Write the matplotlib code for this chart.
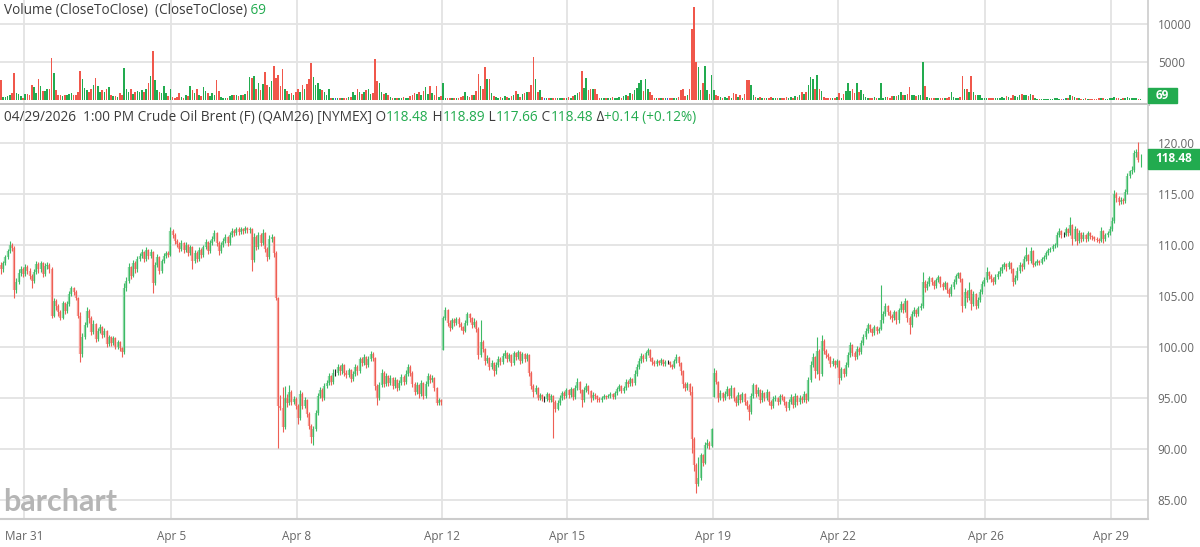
import numpy as np
import matplotlib
matplotlib.use("Agg")
import matplotlib.pyplot as plt
from matplotlib.patches import Rectangle
from matplotlib.transforms import blended_transform_factory

plt.rcParams['font.family'] = ['Open Sans', 'DejaVu Sans']

# hourly bars, Crude Oil Brent (QAM26)
closes = [
    107.6, 108.2, 108.8, 109.4, 110.0, 109.7, 105.6, 106.4, 107.3, 107.6,
    107.2, 107.8, 107.5, 107.0, 106.5, 107.4, 108.1, 107.6, 108.2, 107.2,
    107.9, 108.0, 107.6, 103.0, 104.5, 104.0, 103.4, 102.8, 104.3, 103.5,
    104.2, 105.2, 105.8, 105.4, 104.8, 103.0, 99.3, 101.0, 102.2, 103.5,
    102.8, 101.5, 102.3, 100.8, 101.6, 102.0, 101.2, 101.6, 100.3, 101.0,
    100.4, 100.9, 100.0, 100.5, 99.9, 99.5, 105.8, 106.5, 107.8, 107.0,
    108.2, 107.6, 108.6, 108.9, 109.3, 108.6, 109.5, 108.9, 109.3, 106.3,
    108.0, 108.8, 107.5, 108.4, 108.9, 109.2, 109.0, 111.4, 111.0, 110.4,
    110.1, 109.6, 110.2, 109.5, 110.0, 109.2, 109.8, 108.4, 109.2, 108.6,
    109.5, 109.0, 109.8, 110.3, 109.4, 110.2, 110.6, 111.2, 110.2, 109.4,
    110.0, 110.4, 110.8, 110.2, 111.0, 111.4, 111.2, 111.6, 111.3, 111.6,
    111.4, 111.7, 111.5, 111.6, 108.5, 110.8, 109.8, 111.0, 110.2, 111.2,
    109.6, 108.8, 110.6, 110.8, 109.2, 104.8, 94.2, 94.0, 92.2, 95.0,
    94.5, 95.6, 94.6, 94.9, 94.2, 93.0, 95.4, 94.2, 94.8, 93.4,
    92.3, 91.2, 92.0, 93.5, 95.2, 95.8, 95.0, 96.2, 96.5, 97.2,
    96.6, 97.5, 97.5, 98.0, 97.6, 98.2, 97.5, 97.3, 97.7, 96.9,
    97.4, 98.0, 97.6, 98.8, 98.4, 99.0, 98.2, 98.8, 99.3, 98.9,
    96.2, 95.0, 96.3, 97.5, 96.4, 97.2, 96.5, 97.0, 96.2, 96.8,
    96.0, 96.5, 97.1, 96.6, 97.4, 98.0, 97.5, 96.4, 95.6, 96.3,
    95.4, 96.5, 95.2, 96.4, 97.2, 96.8, 97.0, 96.0, 94.5, 94.8,
    94.6, 102.8, 103.6, 102.4, 101.9, 102.6, 102.4, 102.7, 102.3, 102.0,
    101.6, 102.4, 103.2, 102.8, 102.2, 102.5, 101.8, 99.2, 100.5, 99.8,
    98.6, 98.9, 98.0, 98.4, 97.6, 98.2, 98.8, 98.5, 99.1, 99.4,
    98.8, 99.2, 98.4, 99.4, 99.0, 99.5, 98.6, 99.3, 98.8, 99.2,
    97.5, 96.2, 95.6, 96.0, 95.0, 95.3, 94.9, 94.9, 95.4, 94.8,
    95.2, 94.6, 93.9, 94.5, 95.0, 95.5, 95.2, 95.8, 95.3, 95.9,
    95.1, 96.0, 96.6, 95.8, 94.8, 95.8, 96.2, 95.7, 95.0, 95.3,
    95.2, 94.9, 94.8, 95.0, 95.2, 95.1, 95.2, 95.4, 95.1, 95.5,
    95.9, 96.2, 95.7, 96.0, 96.6, 96.4, 96.9, 96.5, 97.4, 98.0,
    98.6, 99.1, 98.8, 99.4, 99.7, 98.9, 98.5, 98.3, 98.6, 98.4,
    98.7, 98.3, 98.5, 98.5, 98.2, 98.0, 98.6, 99.0, 98.4, 97.6,
    96.4, 96.0, 96.4, 95.6, 91.0, 88.4, 86.6, 87.2, 89.4, 88.6,
    90.4, 90.6, 90.3, 92.0, 97.5, 96.6, 95.0, 95.5, 95.0, 95.4,
    95.9, 95.2, 96.0, 95.0, 94.5, 95.3, 94.8, 95.4, 94.6, 94.2,
    93.6, 95.2, 96.3, 95.4, 95.8, 94.8, 95.5, 95.0, 95.6, 94.6,
    94.2, 94.9, 95.0, 94.6, 95.2, 95.1, 94.6, 94.0, 94.6, 95.1,
    94.3, 95.2, 94.6, 95.0, 94.8, 95.4, 94.8, 96.8, 98.2, 99.0,
    97.6, 99.6, 97.4, 100.6, 99.6, 99.2, 99.0, 98.3, 98.6, 98.2,
    98.6, 97.0, 97.8, 97.4, 98.2, 99.2, 100.2, 99.4, 99.0, 99.8,
    99.5, 100.4, 101.0, 101.6, 102.2, 101.8, 101.4, 102.0, 101.6, 101.8,
    102.6, 103.2, 104.0, 103.4, 103.0, 102.8, 103.4, 102.6, 103.6, 104.2,
    103.6, 104.5, 102.8, 102.2, 103.2, 103.6, 103.2, 103.8, 104.0, 106.4,
    105.8, 106.2, 106.8, 106.4, 106.0, 106.6, 106.9, 106.2, 105.9, 106.3,
    105.6, 105.2, 105.9, 106.4, 107.0, 107.3, 106.7, 104.0, 105.4, 104.8,
    105.6, 104.2, 105.2, 104.0, 104.6, 105.4, 106.2, 106.6, 107.4, 107.0,
    106.7, 106.4, 106.9, 107.2, 107.5, 107.8, 108.1, 107.8, 108.2, 107.6,
    106.4, 106.8, 107.5, 108.0, 107.8, 108.6, 109.0, 108.4, 109.4, 108.0,
    108.2, 108.4, 108.2, 108.6, 108.8, 109.2, 109.5, 109.6, 109.9, 110.0,
    111.0, 111.4, 111.0, 111.0, 111.6, 111.2, 112.0, 110.6, 111.6, 110.4,
    111.2, 110.6, 111.0, 110.6, 111.2, 110.9, 110.8, 110.6, 110.5, 110.4,
    111.4, 110.6, 111.0, 111.2, 111.6, 112.4, 115.0, 114.6, 114.2, 114.4,
    114.3, 115.2, 116.8, 117.3, 117.4, 119.0, 119.1, 118.34, 118.48,
]

highs = [
    108.3, 108.4, 109.0, 109.6, 110.4, 110.2, 109.9, 106.8, 107.6, 107.9,
    107.8, 108.1, 108.0, 107.7, 107.2, 107.6, 108.4, 108.3, 108.4, 108.3,
    108.2, 108.3, 108.2, 107.8, 104.8, 104.7, 104.2, 103.6, 104.5, 104.4,
    104.5, 105.5, 106.0, 105.9, 105.6, 104.9, 103.4, 101.4, 102.5, 103.9,
    103.7, 103.0, 102.6, 102.4, 101.9, 102.3, 102.1, 101.9, 101.7, 101.2,
    101.1, 101.1, 101.0, 100.7, 100.6, 100.0, 106.3, 106.9, 108.2, 107.9,
    108.5, 108.4, 108.9, 109.2, 109.6, 109.4, 109.8, 109.6, 109.6, 109.4,
    108.3, 109.1, 108.9, 108.6, 109.2, 109.4, 109.4, 111.8, 111.6, 111.2,
    110.6, 110.3, 110.5, 110.3, 110.3, 110.1, 110.0, 109.9, 109.5, 109.4,
    109.8, 109.7, 110.0, 110.6, 110.4, 110.5, 110.9, 111.5, 111.3, 110.4,
    110.3, 110.7, 111.1, 110.9, 111.3, 111.7, 111.6, 111.8, 111.8, 111.8,
    111.7, 111.9, 111.8, 111.8, 111.7, 111.2, 111.0, 111.3, 111.2, 111.6,
    111.3, 109.8, 111.0, 111.1, 110.9, 109.4, 104.9, 95.3, 96.1, 96.2,
    95.4, 96.3, 95.8, 95.2, 95.1, 94.4, 95.8, 95.6, 95.1, 94.9,
    93.6, 92.5, 92.3, 93.8, 95.5, 96.1, 96.0, 96.5, 96.8, 97.5,
    97.3, 97.8, 97.8, 98.3, 98.2, 98.4, 98.3, 97.7, 97.9, 97.8,
    97.6, 98.3, 98.2, 99.0, 99.0, 99.3, 99.1, 99.1, 99.6, 99.5,
    99.0, 96.4, 96.6, 97.8, 97.6, 97.5, 97.3, 97.3, 97.1, 97.1,
    96.9, 96.8, 97.4, 97.3, 97.7, 98.3, 98.2, 97.6, 96.6, 96.6,
    96.4, 96.8, 96.6, 96.7, 97.5, 97.4, 97.3, 97.1, 96.1, 95.0,
    94.9, 103.0, 103.9, 103.7, 102.6, 102.8, 102.8, 102.9, 102.9, 102.5,
    102.1, 102.6, 103.4, 103.3, 102.9, 102.8, 102.6, 102.0, 102.6, 100.7,
    99.9, 99.2, 99.0, 98.7, 98.5, 98.5, 99.1, 99.0, 99.4, 99.7,
    99.5, 99.4, 99.3, 99.6, 99.5, 99.7, 99.6, 99.5, 99.4, 99.4,
    99.3, 97.6, 96.4, 96.3, 96.1, 95.5, 95.4, 95.2, 95.6, 95.5,
    95.4, 95.3, 94.8, 94.8, 95.3, 95.7, 95.7, 96.0, 95.9, 96.1,
    96.0, 96.3, 97.0, 96.7, 95.9, 96.1, 96.5, 96.3, 95.8, 95.6,
    95.5, 95.3, 95.1, 95.2, 95.4, 95.3, 95.4, 95.6, 95.5, 95.7,
    96.1, 96.4, 96.3, 96.2, 96.9, 96.8, 97.1, 97.0, 97.7, 98.3,
    98.9, 99.4, 99.3, 99.6, 99.9, 99.8, 99.0, 98.7, 98.8, 98.7,
    98.9, 98.8, 98.7, 98.7, 98.6, 98.3, 98.8, 99.3, 99.1, 98.5,
    97.7, 96.6, 96.6, 96.5, 96.2, 91.2, 88.6, 89.2, 89.6, 89.5,
    90.7, 91.0, 90.8, 92.1, 97.9, 97.7, 96.7, 95.8, 95.6, 95.7,
    96.2, 96.0, 96.3, 96.1, 95.2, 95.6, 95.4, 95.6, 95.5, 94.8,
    94.4, 95.5, 96.5, 96.4, 96.1, 95.9, 95.8, 95.6, 95.9, 95.7,
    94.8, 95.2, 95.3, 95.1, 95.4, 95.4, 95.2, 94.7, 94.9, 95.4,
    95.2, 95.5, 95.3, 95.3, 95.2, 95.7, 95.5, 97.1, 98.6, 99.4,
    99.1, 101.0, 99.8, 101.2, 100.8, 99.8, 99.4, 99.1, 98.9, 98.7,
    98.8, 98.7, 98.0, 97.9, 98.5, 99.5, 100.5, 100.3, 99.6, 100.1,
    100.0, 100.7, 101.3, 101.9, 102.4, 102.3, 101.9, 102.2, 102.1, 102.0,
    106.1, 103.5, 104.3, 104.1, 103.6, 103.2, 103.6, 103.5, 103.8, 104.5,
    104.3, 104.8, 104.6, 103.0, 103.5, 103.9, 103.7, 104.0, 104.3, 107.4,
    106.6, 106.5, 107.0, 106.9, 106.6, 106.8, 107.1, 107.0, 106.4, 106.5,
    106.4, 105.8, 106.2, 106.7, 107.2, 107.4, 107.4, 106.8, 105.8, 105.6,
    106.4, 105.7, 105.5, 105.3, 104.9, 105.7, 106.5, 106.9, 107.8, 107.5,
    107.2, 106.9, 107.2, 107.5, 107.8, 108.1, 108.3, 108.2, 108.4, 108.3,
    107.7, 107.1, 107.8, 108.3, 108.2, 108.9, 109.8, 109.1, 109.8, 109.5,
    108.4, 108.6, 108.5, 108.8, 109.0, 109.4, 109.7, 109.8, 110.1, 110.2,
    111.3, 111.7, 111.5, 111.3, 111.8, 111.7, 112.7, 112.1, 111.9, 111.7,
    111.5, 111.3, 111.3, 111.1, 111.4, 111.3, 111.0, 110.9, 110.8, 110.7,
    111.8, 111.5, 111.2, 111.4, 111.9, 112.7, 115.4, 115.2, 114.8, 114.7,
    114.6, 115.5, 117.1, 117.4, 117.7, 119.3, 119.4, 120.1, 118.89,
]

lows = [
    107.2, 107.4, 108.0, 108.6, 109.2, 109.4, 104.8, 105.3, 106.2, 107.0,
    106.9, 107.0, 107.2, 106.7, 105.8, 106.3, 107.2, 107.3, 107.4, 106.9,
    107.0, 107.6, 107.3, 102.8, 102.9, 103.6, 103.0, 102.6, 102.7, 103.2,
    103.3, 104.0, 105.0, 105.1, 104.6, 102.8, 98.5, 99.0, 100.8, 102.0,
    102.4, 101.2, 101.3, 100.5, 100.6, 101.4, 100.9, 101.0, 100.0, 100.1,
    100.1, 100.2, 99.8, 99.8, 99.6, 99.0, 99.3, 105.5, 106.3, 106.7,
    106.9, 107.3, 107.4, 108.4, 108.7, 108.3, 108.4, 108.6, 108.7, 105.3,
    106.1, 107.8, 107.2, 107.3, 108.2, 108.7, 108.8, 108.9, 110.7, 110.1,
    109.8, 109.3, 109.4, 109.2, 109.3, 108.9, 109.0, 107.6, 108.2, 108.3,
    108.4, 108.7, 108.8, 109.6, 109.1, 109.2, 110.0, 110.4, 109.9, 109.0,
    109.2, 109.8, 110.2, 109.9, 110.0, 110.8, 110.9, 111.0, 111.0, 111.1,
    111.1, 111.2, 111.2, 111.2, 107.5, 108.3, 109.5, 109.6, 109.9, 110.0,
    109.3, 108.4, 108.6, 110.3, 108.8, 104.6, 90.1, 93.8, 91.7, 92.0,
    94.1, 94.3, 94.3, 94.4, 93.9, 92.5, 92.8, 93.9, 94.0, 93.1,
    92.0, 90.6, 90.4, 91.8, 93.3, 95.0, 94.7, 94.8, 96.0, 96.3,
    96.3, 96.4, 97.2, 97.3, 97.3, 97.4, 97.2, 97.0, 97.1, 96.6,
    96.7, 97.2, 97.3, 97.5, 98.1, 98.2, 97.9, 98.0, 98.6, 98.6,
    95.8, 94.3, 94.8, 96.1, 96.1, 96.2, 96.2, 96.3, 95.9, 96.0,
    95.7, 95.8, 96.3, 96.3, 96.4, 97.2, 97.2, 96.1, 95.3, 95.4,
    95.0, 95.2, 94.9, 95.0, 96.2, 96.5, 96.6, 95.7, 94.3, 94.3,
    94.3, 99.7, 102.6, 102.1, 101.6, 101.8, 102.1, 102.2, 102.0, 101.7,
    101.3, 101.5, 102.2, 102.5, 101.9, 102.0, 101.5, 98.8, 99.0, 99.5,
    98.2, 98.4, 97.7, 97.8, 97.2, 97.4, 98.0, 98.2, 98.3, 98.9,
    98.5, 98.6, 98.1, 98.2, 98.7, 98.8, 98.3, 98.4, 98.5, 98.6,
    97.2, 95.9, 95.1, 95.4, 94.8, 94.8, 94.7, 94.6, 94.7, 94.6,
    94.6, 91.1, 93.6, 93.8, 94.3, 94.8, 94.9, 95.0, 95.0, 95.1,
    94.8, 94.9, 95.8, 95.5, 94.1, 94.6, 95.6, 95.4, 94.6, 94.8,
    94.9, 94.6, 94.6, 94.6, 94.9, 94.9, 95.0, 95.0, 94.9, 94.9,
    95.3, 95.7, 95.5, 95.5, 95.8, 96.1, 96.2, 96.2, 96.3, 97.2,
    97.8, 98.4, 98.5, 98.6, 99.2, 98.6, 98.2, 98.1, 98.1, 98.2,
    98.2, 98.1, 98.1, 98.3, 98.0, 97.8, 97.9, 98.4, 98.1, 97.3,
    96.0, 95.7, 95.8, 95.3, 89.6, 87.8, 85.7, 86.4, 87.0, 88.3,
    88.5, 90.1, 90.0, 90.2, 95.1, 96.4, 94.6, 94.8, 94.7, 94.8,
    95.2, 94.9, 95.0, 94.7, 94.2, 94.3, 94.5, 94.6, 94.3, 93.9,
    92.8, 93.4, 95.0, 95.1, 95.2, 94.5, 94.6, 94.7, 94.8, 94.3,
    93.9, 94.0, 94.7, 94.3, 94.4, 94.8, 94.3, 93.7, 93.8, 94.4,
    94.0, 94.1, 94.3, 94.4, 94.5, 94.6, 94.5, 94.7, 96.6, 98.0,
    97.0, 97.4, 96.8, 97.2, 99.3, 98.9, 98.7, 98.0, 98.1, 97.9,
    98.0, 96.4, 96.8, 97.1, 97.2, 98.0, 99.0, 99.1, 98.7, 98.8,
    99.2, 99.3, 100.2, 100.8, 101.4, 101.5, 101.1, 101.2, 101.3, 101.4,
    101.7, 102.4, 103.0, 103.1, 102.7, 102.5, 102.6, 102.3, 102.4, 103.4,
    103.3, 103.4, 102.5, 101.3, 102.0, 103.0, 102.9, 103.0, 103.6, 103.8,
    105.4, 105.6, 106.0, 106.1, 105.7, 105.8, 106.4, 105.9, 105.6, 105.7,
    105.3, 104.9, 105.0, 105.7, 106.2, 106.8, 106.4, 103.4, 103.8, 104.4,
    104.6, 103.6, 104.0, 103.7, 103.8, 104.4, 105.2, 106.0, 106.4, 106.7,
    106.4, 106.1, 106.2, 106.7, 107.0, 107.3, 107.6, 107.5, 107.6, 107.3,
    106.0, 106.2, 106.6, 107.3, 107.5, 107.6, 108.4, 108.1, 108.2, 107.8,
    107.9, 108.0, 108.0, 108.1, 108.4, 108.6, 109.0, 109.3, 109.4, 109.7,
    109.8, 110.8, 110.7, 110.8, 110.9, 110.9, 111.0, 110.0, 110.4, 110.0,
    110.2, 110.3, 110.4, 110.3, 110.4, 110.6, 110.5, 110.4, 110.3, 110.2,
    110.3, 110.2, 110.4, 110.8, 111.0, 111.4, 112.2, 114.2, 113.9, 114.0,
    114.0, 114.1, 115.0, 116.6, 117.0, 117.2, 118.6, 118.1, 117.66,
]

# opens differ from the previous close only at session gaps
gap_opens = {0: 108.0, 201: 99.7, 324: 95.1, 518: 118.48}

volumes = [
    2600, 400, 400, 500, 600, 900, 3500, 900, 800, 500,
    300, 800, 800, 700, 2000, 1700, 900, 2700, 1800, 1200,
    1200, 1500, 1400, 5500, 3500, 1300, 700, 600, 500, 700,
    600, 800, 900, 600, 700, 1000, 3800, 2800, 1600, 1300,
    1000, 1400, 2000, 2900, 1800, 1100, 1300, 1000, 1500, 1700,
    600, 500, 500, 400, 900, 700, 4200, 1400, 1000, 1400,
    800, 1100, 1200, 1100, 1300, 1000, 1500, 2200, 3200, 6500,
    2600, 1300, 1000, 900, 1800, 900, 500, 1500, 400, 300,
    400, 900, 400, 300, 700, 500, 1800, 1300, 900, 1400,
    700, 500, 1700, 1200, 900, 500, 900, 600, 2600, 1200,
    400, 300, 300, 300, 500, 600, 600, 700, 500, 600,
    700, 800, 1200, 3000, 2900, 3200, 1500, 2200, 1300, 2100,
    3700, 2000, 1700, 2500, 4500, 2900, 3300, 1800, 4100, 1500,
    1200, 800, 900, 700, 1000, 1500, 1100, 2000, 1400, 2100,
    2800, 4900, 3000, 2000, 2200, 1400, 1300, 1100, 600, 1400,
    300, 200, 200, 300, 200, 300, 300, 200, 400, 400,
    1000, 700, 1500, 1100, 800, 1000, 1300, 1500, 800, 900,
    5400, 2500, 2300, 1000, 800, 900, 600, 400, 300, 300,
    300, 200, 300, 400, 300, 300, 500, 600, 900, 800,
    1000, 600, 1200, 1700, 800, 1800, 900, 700, 1800, 400,
    500, 2200, 300, 200, 300, 200, 200, 300, 300, 400,
    500, 1000, 500, 400, 600, 700, 1200, 3400, 1900, 1500,
    4300, 2800, 2700, 900, 500, 400, 300, 400, 300, 500,
    400, 300, 500, 700, 1200, 800, 400, 800, 900, 1000,
    1100, 2000, 5600, 2700, 1000, 1300, 400, 300, 300, 200,
    300, 300, 300, 200, 200, 300, 200, 300, 400, 300,
    500, 600, 900, 1100, 3800, 1600, 2900, 1300, 1400, 1500,
    1400, 800, 300, 300, 200, 300, 200, 300, 400, 300,
    300, 400, 300, 500, 600, 500, 900, 800, 1300, 1600,
    2300, 2600, 1200, 2800, 1400, 1000, 700, 300, 200, 200,
    300, 200, 200, 200, 200, 300, 300, 200, 400, 1300,
    1500, 500, 600, 1400, 9300, 12300, 5000, 4300, 1300, 2200,
    4500, 1300, 800, 3300, 1300, 600, 500, 400, 300, 400,
    300, 500, 300, 900, 800, 400, 700, 300, 800, 2600,
    2600, 2000, 600, 400, 300, 400, 300, 300, 200, 300,
    400, 300, 200, 300, 200, 300, 200, 400, 300, 400,
    300, 500, 400, 600, 1000, 800, 1000, 2000, 3000, 2800,
    1500, 3300, 1500, 1200, 400, 300, 300, 200, 300, 200,
    400, 900, 300, 800, 1200, 2300, 1200, 1500, 900, 2300,
    1000, 1300, 800, 400, 300, 300, 300, 400, 300, 300,
    2200, 300, 400, 400, 300, 500, 500, 500, 600, 1000,
    700, 700, 800, 1700, 700, 600, 500, 600, 700, 5000,
    1900, 400, 300, 300, 300, 200, 300, 300, 200, 300,
    300, 400, 1100, 400, 300, 300, 400, 3200, 1500, 1500,
    1000, 3200, 1000, 700, 700, 600, 300, 300, 200, 300,
    300, 300, 200, 300, 300, 400, 300, 500, 400, 300,
    600, 500, 400, 700, 800, 600, 700, 500, 800, 600,
    200, 150, 100, 150, 100, 150, 100, 150, 100, 200,
    200, 150, 100, 150, 200, 300, 700, 500, 400, 300,
    200, 150, 100, 200, 150, 100, 150, 100, 150, 200,
    300, 200, 150, 100, 200, 300, 400, 300, 200, 150,
    200, 300, 400, 250, 200, 300, 250, 150, 69,
]

# first bar of each labelled session
session_bars = [11, 78, 135, 201, 258, 324, 381, 448, 505]
session_labels = ["Mar 31", "Apr 5", "Apr 8", "Apr 12", "Apr 15",
                  "Apr 19", "Apr 22", "Apr 26", "Apr 29"]
price_ticks = [85, 90, 95, 100, 105, 110, 115, 120]
vol_ticks = [5000, 10000]

header = "04/29/2026  1:00 PM Crude Oil Brent (F) (QAM26) [NYMEX] "
last_o, last_h, last_l, last_c = 118.48, 118.89, 117.66, 118.48
change, change_pct = 0.14, 0.12

GREEN = '#22ab4f'
RED = '#f0574b'
DARK = '#3b3b3b'
GRAY = '#666666'
GRID = '#e3e3e3'
BORDER = '#cccccc'

W, H = 1200, 547
fig = plt.figure(figsize=(W / 100, H / 100), dpi=100)


def px_box(left, top, right, bottom):
    return [left / W, 1 - bottom / H, (right - left) / W, (bottom - top) / H]


ax_v = fig.add_axes(px_box(0, 0, 1148, 104))
ax_p = fig.add_axes(px_box(0, 105, 1148, 519))

n = len(closes)
x = np.arange(n)
c = np.array(closes)
hi = np.array(highs)
lo = np.array(lows)
o = np.array([gap_opens[i] if i in gap_opens else closes[i - 1] for i in range(n)])
prev = np.concatenate([[o[0]], c[:-1]])
diff = np.round(c - prev, 4)
up = diff > 0
down = diff < 0
flat = diff == 0

styles = [(up, '#8fd8a6', '#3dba66', GREEN),
          (down, '#f7a39d', '#ee5f55', RED),
          (flat, '#777777', '#222222', '#3b5bdb')]

for mask, body_col, wick_col, vol_col in styles:
    ax_p.vlines(x[mask], np.minimum(o, c)[mask], np.maximum(o, c)[mask],
                color=body_col, lw=1.7, zorder=3)
    ax_p.vlines(x[mask], lo[mask], hi[mask], color=wick_col, lw=0.8, zorder=4)
    ax_v.bar(x[mask], np.array(volumes)[mask], width=0.75, color=vol_col,
             linewidth=0, zorder=3)

xlim = (-1 / 2.2, 1147 / 2.2)
grid_x = [b - 0.5 for b in session_bars]

# price panel
ax_p.set_xlim(*xlim)
ax_p.set_ylim(85 - 19 / 10.2, 120 + 38 / 10.2)
ax_p.set_yticks(price_ticks)
ax_p.set_yticklabels([f"{v:.2f}" for v in price_ticks])
ax_p.yaxis.tick_right()
ax_p.set_xticks(grid_x)
ax_p.set_xticklabels(session_labels)
ax_p.grid(True, color=GRID, lw=1.3, zorder=0)
ax_p.tick_params(axis='y', length=0, pad=7, labelsize=8.5, labelcolor=GRAY)
ax_p.tick_params(axis='x', length=0, pad=8, labelsize=8.5, labelcolor=GRAY)
for side in ['top', 'left']:
    ax_p.spines[side].set_visible(False)
ax_p.spines['right'].set_color(BORDER)
ax_p.spines['right'].set_linewidth(1.2)
ax_p.spines['bottom'].set_color(BORDER)
ax_p.spines['bottom'].set_linewidth(1.5)

# volume panel
ax_v.set_xlim(*xlim)
ax_v.set_ylim(-4 / 7.6 * 1000, 100 / 7.6 * 1000)
ax_v.set_yticks(vol_ticks)
ax_v.set_yticklabels([str(v) for v in vol_ticks])
ax_v.yaxis.tick_right()
ax_v.set_xticks(grid_x)
ax_v.set_xticklabels([])
ax_v.grid(True, color=GRID, lw=1.3, zorder=0)
ax_v.tick_params(axis='y', length=0, pad=7, labelsize=8.5, labelcolor=GRAY)
ax_v.tick_params(axis='x', length=0)
for side in ['top', 'left']:
    ax_v.spines[side].set_visible(False)
ax_v.spines['right'].set_color(BORDER)
ax_v.spines['right'].set_linewidth(1.2)
ax_v.spines['bottom'].set_color('#c4c4c4')
ax_v.spines['bottom'].set_linewidth(2.2)

# last price tag
tr = blended_transform_factory(ax_p.transAxes, ax_p.transData)
ax_p.add_patch(Rectangle((1.0, last_c - 0.98), 52 / 1148, 1.96, transform=tr,
                         color=GREEN, clip_on=False, zorder=5))
ax_p.text(1.0 + 26 / 1148, last_c, f"{last_c:.2f}", transform=tr, ha='center',
          va='center', color='white', fontsize=8.5, fontweight='bold', zorder=6)

# last volume tag
ax_v.add_patch(Rectangle((1.0, 0.01), 29 / 1148, 0.145, transform=ax_v.transAxes,
                         color=GREEN, clip_on=False, zorder=5))
ax_v.text(1.0 + 14.5 / 1148, 0.082, str(volumes[-1]), transform=ax_v.transAxes,
          ha='center', va='center', color='white', fontsize=8.5,
          fontweight='bold', zorder=6)


def text_row(x_px, y_px, pieces, size):
    r = fig.canvas.get_renderer()
    xp = x_px
    for s, col in pieces:
        t = fig.text(xp / W, 1 - y_px / H, s, color=col, fontsize=size,
                     va='baseline', ha='left')
        xp += t.get_window_extent(r).width


text_row(4, 14, [("Volume (CloseToClose)  (CloseToClose)", DARK),
                 (f" {volumes[-1]}", GREEN)], 9.8)
text_row(4, 121, [(header + "O", DARK), (f"{last_o:.2f}", GREEN),
                  (" H", DARK), (f"{last_h:.2f}", GREEN),
                  (" L", DARK), (f"{last_l:.2f}", GREEN),
                  (" C", DARK), (f"{last_c:.2f}", GREEN),
                  (" \u0394", DARK), (f"+{change:.2f} (+{change_pct:.2f}%)", GREEN)], 9.8)

fig.text(3 / W, 1 - 511 / H, "barchart", fontsize=22, color='#b5b5b5',
         fontweight='bold', family=['Lato', 'DejaVu Sans'], va='baseline')

fig.savefig("out.png", dpi=100)
